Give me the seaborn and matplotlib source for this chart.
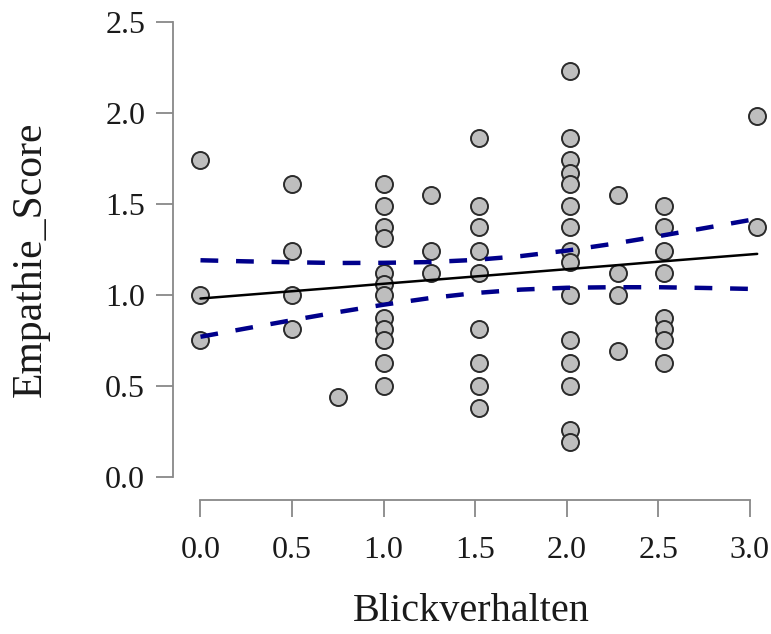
import matplotlib
matplotlib.use("Agg")
import matplotlib.pyplot as plt
import seaborn as sns
import pandas as pd

# Werte (je Spalte von Blickverhalten)
blick_stufen = [0.0, 0.5, 0.75, 1.0, 1.26, 1.52, 2.02, 2.28, 2.53, 3.04]
empathie_werte = [
    [1.74, 1.0, 0.75],
    [1.61, 1.24, 1.0, 0.81],
    [0.44],
    [1.61, 1.49, 1.37, 1.31, 1.12, 1.06, 1.0, 0.875, 0.81, 0.75, 0.625, 0.5],
    [1.55, 1.24, 1.12],
    [1.86, 1.49, 1.37, 1.24, 1.12, 0.81, 0.625, 0.5, 0.38],
    [2.23, 1.86, 1.74, 1.67, 1.61, 1.49, 1.37, 1.24, 1.18, 1.0, 0.75, 0.625, 0.5, 0.26, 0.19],
    [1.55, 1.12, 1.0, 0.69],
    [1.49, 1.37, 1.24, 1.12, 0.875, 0.81, 0.75, 0.625],
    [1.98, 1.37],
]

# Regressionsgerade und 95%-Konfidenzgrenzen
fit_x = [0.0, 0.25, 0.5, 0.75, 1.0, 1.25, 1.5, 1.75, 2.0, 2.25, 2.5, 2.75, 3.04]
fit_y = [0.980, 1.000, 1.020, 1.040, 1.061, 1.081, 1.101, 1.121, 1.141, 1.161, 1.182, 1.202, 1.225]
ci_oben = [1.190, 1.184, 1.179, 1.175, 1.176, 1.180, 1.192, 1.213, 1.243, 1.280, 1.322, 1.366, 1.418]
ci_unten = [0.770, 0.816, 0.861, 0.905, 0.946, 0.982, 1.010, 1.029, 1.039, 1.042, 1.042, 1.038, 1.032]

x_ticks = [0.0, 0.5, 1.0, 1.5, 2.0, 2.5, 3.0]
y_ticks = [0.0, 0.5, 1.0, 1.5, 2.0, 2.5]

df = pd.DataFrame(
    [(b, e) for b, werte in zip(blick_stufen, empathie_werte) for e in werte],
    columns=["Blickverhalten", "Empathie_Score"],
)
fit_df = pd.DataFrame({"x": fit_x, "fit": fit_y, "hi": ci_oben, "lo": ci_unten})

sns.set_style("white")
plt.rcParams["font.family"] = ["Liberation Serif", "DejaVu Serif"]

fig = plt.figure(figsize=(7.71, 6.34), dpi=100)
ax = fig.add_axes([0.2244, 0.2114, 0.7743, 0.7602])

for col in ["hi", "lo"]:
    sns.lineplot(data=fit_df, x="x", y=col, ax=ax, color="#00008B", lw=3.2,
                 linestyle=(0, (4.0, 4.0)), zorder=3)
sns.lineplot(data=fit_df, x="x", y="fit", ax=ax, color="black", lw=1.8, zorder=3)
sns.scatterplot(data=df, x="Blickverhalten", y="Empathie_Score", ax=ax, s=150,
                color="#BEBEBE", edgecolor="#2A2A2A", linewidth=1.4, zorder=2)

ax.set_xlim(-0.15, 3.11)
ax.set_ylim(-0.126, 2.52)
ax.set_xticks(x_ticks)
ax.set_yticks(y_ticks)
ax.set_xticklabels([f"{v:.1f}" for v in x_ticks])
ax.set_yticklabels([f"{v:.1f}" for v in y_ticks])

for side in ["top", "right"]:
    ax.spines[side].set_visible(False)
ax.spines["left"].set_bounds(0, 2.5)
ax.spines["bottom"].set_bounds(0, 3.0)
for side in ["left", "bottom"]:
    ax.spines[side].set_color("#888888")
    ax.spines[side].set_linewidth(1.3)
ax.tick_params(axis="both", direction="out", length=12, width=1.3, color="#888888",
               labelsize=23, labelcolor="#1A1A1A", left=True, bottom=True)
ax.tick_params(axis="x", pad=14)
ax.tick_params(axis="y", pad=8)

ax.set_xlabel("Blickverhalten", fontsize=29, color="#1A1A1A", labelpad=20)
ax.set_ylabel("Empathie_Score", fontsize=30, color="#1A1A1A", labelpad=40)

fig.savefig("out.png", dpi=100)
